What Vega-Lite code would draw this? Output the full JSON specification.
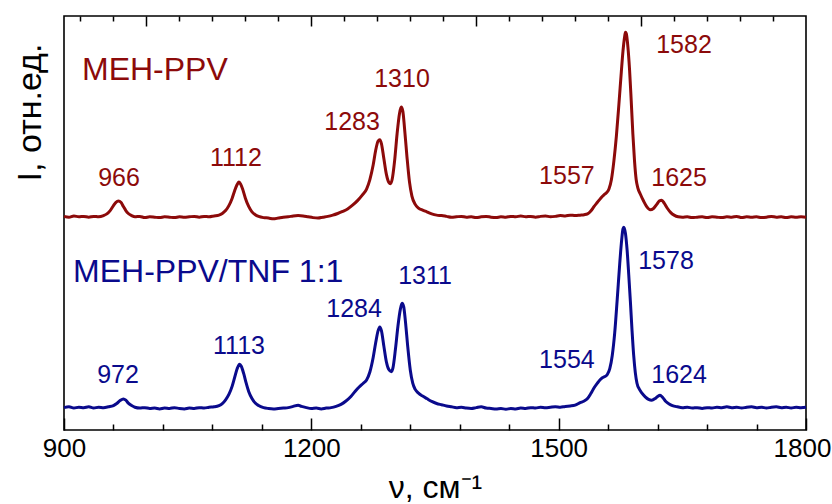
{
  "$schema": "https://vega.github.io/schema/vega-lite/v6.json",
  "width": 742,
  "height": 414,
  "autosize": {"type": "none"},
  "padding": {"left": 64, "top": 16, "right": 26, "bottom": 74},
  "background": "white",
  "config": {
    "view": {"stroke": "#000", "strokeWidth": 1.6},
    "font": "Liberation Sans",
    "axis": {"domain": false, "grid": false, "tickColor": "#000", "tickWidth": 1.5, "labelColor": "#000", "titleColor": "#000", "titleFontWeight": "normal"}
  },
  "datasets": {
    "red": [
      {"w":900,"i":51.6},{"w":906,"i":51.4},{"w":912,"i":51.7},{"w":918,"i":51.5},{"w":924,"i":51.6},{"w":930,"i":51.4},{"w":936,"i":51.6},{"w":942,"i":51.5},{"w":948,"i":51.8},{"w":952,"i":52.2},{"w":956,"i":53.0},{"w":960,"i":54.2},{"w":963,"i":55.0},{"w":966,"i":55.3},{"w":969,"i":55.0},{"w":972,"i":54.0},{"w":975,"i":53.0},{"w":978,"i":52.3},{"w":982,"i":51.8},{"w":986,"i":51.5},{"w":992,"i":51.6},{"w":998,"i":51.3},{"w":1004,"i":51.5},{"w":1010,"i":51.4},{"w":1016,"i":51.3},{"w":1022,"i":51.5},{"w":1028,"i":51.4},{"w":1034,"i":51.3},{"w":1040,"i":51.5},{"w":1046,"i":51.4},{"w":1052,"i":51.5},{"w":1058,"i":51.6},{"w":1064,"i":51.4},{"w":1070,"i":51.6},{"w":1076,"i":51.5},{"w":1082,"i":51.7},{"w":1088,"i":51.9},{"w":1092,"i":52.3},{"w":1096,"i":53.0},{"w":1100,"i":54.2},{"w":1104,"i":56.0},{"w":1107,"i":57.8},{"w":1110,"i":59.3},{"w":1112,"i":59.9},{"w":1114,"i":59.5},{"w":1117,"i":58.0},{"w":1120,"i":56.0},{"w":1124,"i":54.0},{"w":1128,"i":52.7},{"w":1132,"i":52.0},{"w":1136,"i":51.6},{"w":1142,"i":51.3},{"w":1148,"i":51.2},{"w":1154,"i":51.0},{"w":1160,"i":51.2},{"w":1166,"i":51.4},{"w":1172,"i":51.5},{"w":1178,"i":51.7},{"w":1184,"i":51.8},{"w":1190,"i":51.7},{"w":1196,"i":51.5},{"w":1202,"i":51.3},{"w":1208,"i":51.2},{"w":1214,"i":51.4},{"w":1220,"i":51.6},{"w":1226,"i":51.9},{"w":1232,"i":52.3},{"w":1238,"i":52.8},{"w":1244,"i":53.4},{"w":1250,"i":54.3},{"w":1256,"i":55.4},{"w":1262,"i":56.8},{"w":1267,"i":58.2},{"w":1271,"i":60.5},{"w":1275,"i":64.0},{"w":1278,"i":67.5},{"w":1281,"i":69.8},{"w":1283,"i":70.1},{"w":1285,"i":69.2},{"w":1288,"i":65.5},{"w":1291,"i":61.8},{"w":1294,"i":59.8},{"w":1296,"i":59.5},{"w":1298,"i":60.5},{"w":1301,"i":65.0},{"w":1304,"i":71.5},{"w":1307,"i":76.5},{"w":1309,"i":78.0},{"w":1311,"i":77.0},{"w":1313,"i":73.0},{"w":1316,"i":66.0},{"w":1319,"i":60.0},{"w":1322,"i":56.5},{"w":1326,"i":54.5},{"w":1330,"i":53.6},{"w":1335,"i":53.1},{"w":1340,"i":52.7},{"w":1346,"i":52.2},{"w":1352,"i":51.9},{"w":1358,"i":51.8},{"w":1364,"i":51.6},{"w":1370,"i":51.4},{"w":1376,"i":51.5},{"w":1382,"i":51.6},{"w":1388,"i":51.4},{"w":1394,"i":51.5},{"w":1400,"i":51.3},{"w":1406,"i":51.5},{"w":1412,"i":51.6},{"w":1418,"i":51.4},{"w":1424,"i":51.3},{"w":1430,"i":51.5},{"w":1436,"i":51.4},{"w":1442,"i":51.6},{"w":1448,"i":51.5},{"w":1454,"i":51.7},{"w":1460,"i":51.5},{"w":1466,"i":51.6},{"w":1472,"i":51.4},{"w":1478,"i":51.6},{"w":1484,"i":51.7},{"w":1490,"i":51.5},{"w":1496,"i":51.6},{"w":1502,"i":51.8},{"w":1508,"i":51.7},{"w":1514,"i":51.9},{"w":1520,"i":51.8},{"w":1526,"i":51.9},{"w":1531,"i":52.0},{"w":1535,"i":52.2},{"w":1539,"i":52.9},{"w":1543,"i":54.0},{"w":1547,"i":55.0},{"w":1551,"i":56.0},{"w":1555,"i":56.8},{"w":1558,"i":57.3},{"w":1561,"i":58.2},{"w":1564,"i":60.5},{"w":1567,"i":65.0},{"w":1570,"i":71.0},{"w":1573,"i":78.5},{"w":1576,"i":86.5},{"w":1578,"i":91.5},{"w":1580,"i":95.0},{"w":1581,"i":96.1},{"w":1582,"i":95.8},{"w":1584,"i":92.5},{"w":1586,"i":87.0},{"w":1588,"i":79.5},{"w":1590,"i":71.5},{"w":1592,"i":65.0},{"w":1594,"i":60.5},{"w":1596,"i":58.5},{"w":1599,"i":57.0},{"w":1603,"i":55.3},{"w":1607,"i":53.9},{"w":1611,"i":53.2},{"w":1615,"i":53.5},{"w":1619,"i":54.5},{"w":1622,"i":55.3},{"w":1625,"i":55.5},{"w":1628,"i":54.8},{"w":1632,"i":53.5},{"w":1636,"i":52.5},{"w":1640,"i":51.9},{"w":1645,"i":51.5},{"w":1650,"i":51.4},{"w":1656,"i":51.5},{"w":1662,"i":51.3},{"w":1668,"i":51.4},{"w":1674,"i":51.5},{"w":1680,"i":51.3},{"w":1686,"i":51.5},{"w":1692,"i":51.4},{"w":1698,"i":51.3},{"w":1704,"i":51.5},{"w":1710,"i":51.4},{"w":1716,"i":51.6},{"w":1722,"i":51.3},{"w":1728,"i":51.5},{"w":1734,"i":51.4},{"w":1740,"i":51.5},{"w":1746,"i":51.3},{"w":1752,"i":51.4},{"w":1758,"i":51.6},{"w":1764,"i":51.4},{"w":1770,"i":51.5},{"w":1776,"i":51.3},{"w":1782,"i":51.5},{"w":1788,"i":51.4},{"w":1794,"i":51.5},{"w":1800,"i":51.4}
    ],
    "blue": [
      {"w":900,"i":5.4},{"w":906,"i":5.6},{"w":912,"i":5.3},{"w":918,"i":5.5},{"w":924,"i":5.4},{"w":930,"i":5.6},{"w":936,"i":5.3},{"w":942,"i":5.5},{"w":948,"i":5.4},{"w":954,"i":5.6},{"w":960,"i":5.9},{"w":964,"i":6.4},{"w":968,"i":7.1},{"w":972,"i":7.5},{"w":975,"i":7.2},{"w":978,"i":6.5},{"w":982,"i":5.9},{"w":986,"i":5.5},{"w":992,"i":5.3},{"w":998,"i":5.4},{"w":1004,"i":5.2},{"w":1010,"i":5.3},{"w":1016,"i":5.1},{"w":1022,"i":5.3},{"w":1028,"i":5.2},{"w":1034,"i":5.4},{"w":1040,"i":5.2},{"w":1046,"i":5.1},{"w":1052,"i":5.3},{"w":1058,"i":5.2},{"w":1064,"i":5.4},{"w":1070,"i":5.3},{"w":1076,"i":5.5},{"w":1082,"i":5.6},{"w":1088,"i":5.9},{"w":1092,"i":6.4},{"w":1096,"i":7.3},{"w":1100,"i":8.6},{"w":1104,"i":10.6},{"w":1107,"i":12.7},{"w":1110,"i":14.8},{"w":1113,"i":15.9},{"w":1115,"i":15.4},{"w":1118,"i":13.6},{"w":1121,"i":11.3},{"w":1124,"i":9.3},{"w":1128,"i":7.6},{"w":1132,"i":6.5},{"w":1136,"i":5.9},{"w":1142,"i":5.4},{"w":1148,"i":5.2},{"w":1154,"i":5.1},{"w":1160,"i":5.2},{"w":1166,"i":5.3},{"w":1172,"i":5.4},{"w":1178,"i":5.7},{"w":1184,"i":6.0},{"w":1188,"i":5.7},{"w":1194,"i":5.4},{"w":1200,"i":5.2},{"w":1206,"i":5.3},{"w":1212,"i":5.1},{"w":1218,"i":5.3},{"w":1224,"i":5.4},{"w":1230,"i":5.7},{"w":1236,"i":6.2},{"w":1242,"i":7.0},{"w":1248,"i":8.1},{"w":1253,"i":9.3},{"w":1258,"i":10.4},{"w":1263,"i":11.3},{"w":1267,"i":12.1},{"w":1271,"i":14.0},{"w":1275,"i":17.5},{"w":1278,"i":21.0},{"w":1281,"i":24.0},{"w":1283,"i":24.9},{"w":1285,"i":24.0},{"w":1288,"i":20.2},{"w":1291,"i":16.5},{"w":1294,"i":14.6},{"w":1297,"i":14.1},{"w":1299,"i":15.0},{"w":1302,"i":19.5},{"w":1305,"i":25.0},{"w":1308,"i":29.2},{"w":1310,"i":30.6},{"w":1312,"i":29.8},{"w":1314,"i":26.5},{"w":1317,"i":20.0},{"w":1320,"i":14.5},{"w":1323,"i":11.3},{"w":1326,"i":9.8},{"w":1330,"i":8.9},{"w":1335,"i":8.2},{"w":1340,"i":7.6},{"w":1346,"i":6.9},{"w":1352,"i":6.4},{"w":1358,"i":6.1},{"w":1364,"i":5.8},{"w":1370,"i":5.6},{"w":1376,"i":5.4},{"w":1382,"i":5.5},{"w":1388,"i":5.3},{"w":1394,"i":5.2},{"w":1400,"i":5.4},{"w":1406,"i":5.6},{"w":1412,"i":5.3},{"w":1418,"i":5.2},{"w":1424,"i":5.1},{"w":1430,"i":5.2},{"w":1436,"i":5.0},{"w":1442,"i":5.2},{"w":1448,"i":5.1},{"w":1454,"i":5.3},{"w":1460,"i":5.2},{"w":1466,"i":5.4},{"w":1472,"i":5.3},{"w":1478,"i":5.5},{"w":1484,"i":5.4},{"w":1490,"i":5.5},{"w":1496,"i":5.6},{"w":1502,"i":5.5},{"w":1508,"i":5.7},{"w":1514,"i":5.8},{"w":1520,"i":6.0},{"w":1526,"i":6.6},{"w":1531,"i":7.0},{"w":1535,"i":7.6},{"w":1539,"i":8.8},{"w":1543,"i":10.2},{"w":1547,"i":11.3},{"w":1550,"i":12.1},{"w":1553,"i":12.6},{"w":1556,"i":12.9},{"w":1559,"i":13.4},{"w":1562,"i":14.8},{"w":1565,"i":18.0},{"w":1568,"i":23.5},{"w":1571,"i":31.5},{"w":1574,"i":40.0},{"w":1576,"i":45.0},{"w":1578,"i":48.6},{"w":1579,"i":49.0},{"w":1581,"i":47.5},{"w":1583,"i":43.5},{"w":1585,"i":37.5},{"w":1587,"i":31.0},{"w":1589,"i":24.0},{"w":1591,"i":18.0},{"w":1593,"i":13.8},{"w":1595,"i":11.3},{"w":1598,"i":9.8},{"w":1601,"i":8.9},{"w":1605,"i":8.0},{"w":1609,"i":7.4},{"w":1613,"i":7.2},{"w":1617,"i":7.6},{"w":1620,"i":8.1},{"w":1623,"i":8.4},{"w":1626,"i":7.9},{"w":1630,"i":6.9},{"w":1634,"i":6.3},{"w":1638,"i":5.9},{"w":1644,"i":5.6},{"w":1650,"i":5.4},{"w":1656,"i":5.5},{"w":1662,"i":5.3},{"w":1668,"i":5.4},{"w":1674,"i":5.2},{"w":1680,"i":5.4},{"w":1686,"i":5.3},{"w":1692,"i":5.5},{"w":1698,"i":5.4},{"w":1704,"i":5.6},{"w":1710,"i":5.4},{"w":1716,"i":5.5},{"w":1722,"i":5.3},{"w":1728,"i":5.5},{"w":1734,"i":5.6},{"w":1740,"i":5.4},{"w":1746,"i":5.5},{"w":1752,"i":5.3},{"w":1758,"i":5.5},{"w":1764,"i":5.6},{"w":1770,"i":5.4},{"w":1776,"i":5.5},{"w":1782,"i":5.3},{"w":1788,"i":5.5},{"w":1794,"i":5.4},{"w":1800,"i":5.5}
    ],
    "peaks": [
      {"w":966.7,"i":60.8,"t":"966","s":"MEH-PPV"},
      {"w":1108.6,"i":65.6,"t":"1112","s":"MEH-PPV"},
      {"w":1249.4,"i":74.5,"t":"1283","s":"MEH-PPV"},
      {"w":1310,"i":84.7,"t":"1310","s":"MEH-PPV"},
      {"w":1510,"i":61.3,"t":"1557","s":"MEH-PPV"},
      {"w":1652,"i":93.1,"t":"1582","s":"MEH-PPV"},
      {"w":1646,"i":60.8,"t":"1625","s":"MEH-PPV"},
      {"w":965.5,"i":13.3,"t":"972","s":"MEH-PPV/TNF 1:1"},
      {"w":1112.3,"i":20.3,"t":"1113","s":"MEH-PPV/TNF 1:1"},
      {"w":1251.8,"i":29.2,"t":"1284","s":"MEH-PPV/TNF 1:1"},
      {"w":1337.9,"i":37.2,"t":"1311","s":"MEH-PPV/TNF 1:1"},
      {"w":1510,"i":16.9,"t":"1554","s":"MEH-PPV/TNF 1:1"},
      {"w":1630.2,"i":40.8,"t":"1578","s":"MEH-PPV/TNF 1:1"},
      {"w":1646,"i":13.3,"t":"1624","s":"MEH-PPV/TNF 1:1"}
    ],
    "names": [
      {"w":921.8,"i":86.9,"t":"MEH-PPV","s":"MEH-PPV"},
      {"w":911,"i":38.1,"t":"MEH-PPV/TNF 1:1","s":"MEH-PPV/TNF 1:1"}
    ]
  },
  "resolve": {"axis": {"x": "independent"}},
  "layer": [
    {
      "data": {"name": "red"},
      "mark": {"type": "line", "color": "#8c0a0a", "strokeWidth": 3, "interpolate": "monotone"},
      "encoding": {
        "x": {"field": "w", "type": "quantitative", "scale": {"domain": [900, 1800], "nice": false, "zero": false},
          "axis": {"orient": "bottom", "values": [900, 1200, 1500, 1800], "format": "d", "tickSize": -12, "labelPadding": 17,
            "labelFont": "Liberation Sans", "labelFontSize": 26, "labelFlush": false, "labelOverlap": false,
            "labelOffset": {"condition": {"test": "datum.value == 1800", "value": -4}, "value": 0},
            "title": "ν, см⁻¹", "titleFont": "Liberation Sans", "titleFontSize": 32, "titlePadding": 11}},
        "y": {"field": "i", "type": "quantitative", "scale": {"domain": [0, 100], "nice": false},
          "axis": {"title": "I, отн.ед.", "labels": false, "ticks": false, "titleFont": "Liberation Sans", "titleFontSize": 34,
            "titleX": -34, "titleY": 96, "titleAlign": "center", "titleBaseline": "middle", "titleAngle": -90}}
      }
    },
    {
      "data": {"name": "blue"},
      "mark": {"type": "line", "color": "#0a0a8c", "strokeWidth": 3, "interpolate": "monotone"},
      "encoding": {
        "x": {"field": "w", "type": "quantitative",
          "axis": {"orient": "top", "values": [920,960,1040,1080,1120,1160,1240,1280,1320,1360,1440,1480,1520,1560,1640,1680,1720,1760], "tickSize": -5, "labels": false, "title": null}},
        "y": {"field": "i", "type": "quantitative"}
      }
    },
    {
      "data": {"name": "peaks"},
      "mark": {"type": "text", "fontSize": 25, "align": "center", "baseline": "middle", "font": "Liberation Sans"},
      "encoding": {
        "x": {"field": "w", "type": "quantitative",
          "axis": {"orient": "top", "values": [1000, 1200, 1400, 1600], "tickSize": -10, "labels": false, "title": null}},
        "y": {"field": "i", "type": "quantitative"},
        "text": {"field": "t"},
        "color": {"field": "s", "type": "nominal", "scale": {"domain": ["MEH-PPV", "MEH-PPV/TNF 1:1"], "range": ["#8c0a0a", "#0a0a8c"]}, "legend": null}
      }
    },
    {
      "data": {"name": "names"},
      "mark": {"type": "text", "fontSize": 32, "align": "left", "baseline": "middle", "font": "Liberation Sans"},
      "encoding": {
        "x": {"field": "w", "type": "quantitative",
          "axis": {"orient": "bottom", "values": [960,1020,1080,1140,1260,1320,1380,1440,1560,1620,1680,1740], "tickSize": -6, "labels": false, "title": null}},
        "y": {"field": "i", "type": "quantitative"},
        "text": {"field": "t"},
        "color": {"field": "s", "type": "nominal", "scale": {"domain": ["MEH-PPV", "MEH-PPV/TNF 1:1"], "range": ["#8c0a0a", "#0a0a8c"]}, "legend": null}
      }
    }
  ]
}
